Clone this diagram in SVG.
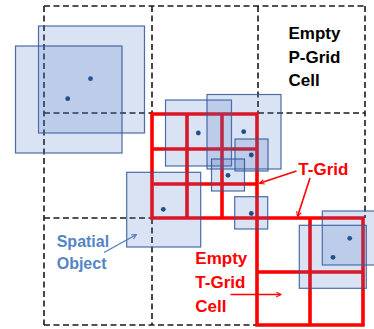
<svg xmlns="http://www.w3.org/2000/svg" width="374" height="329" viewBox="0 0 374 329">
<style>
.pgrid{fill:none;stroke:#1a1a1a;stroke-width:1.6;stroke-dasharray:6 3.5}
.tgrid{fill:none;stroke:#ff0000;stroke-width:3.6;stroke-linecap:square}
.obj{fill:#4472c4;fill-opacity:0.2;stroke:#2f5597;stroke-opacity:0.85;stroke-width:1.2}
.dot{fill:#1f4e8c}
.lbl{font-family:"Liberation Sans",Arial,sans-serif;font-weight:bold}
.blk{fill:#000;font-size:17px}
.red{fill:#ff0000;font-size:17px}
.blu{fill:#5585c5;font-size:16px}
.ra{fill:none;stroke:#ff0000;stroke-width:1.6}
.ba{fill:none;stroke:#4f7fc0;stroke-width:1.4}
</style>
<defs>
<marker id="mr" viewBox="0 0 10 10" refX="9" refY="5" markerWidth="6" markerHeight="6" orient="auto" markerUnits="userSpaceOnUse">
<path d="M1 1 L9 5 L1 9" fill="none" stroke="#ff0000" stroke-width="1.8"/>
</marker>
<marker id="mb" viewBox="0 0 10 10" refX="9" refY="5" markerWidth="6" markerHeight="6" orient="auto" markerUnits="userSpaceOnUse">
<path d="M1 1 L9 5 L1 9" fill="none" stroke="#4f7fc0" stroke-width="1.8"/>
</marker>
</defs>
<g id="p-grid">
<path class="pgrid" d="M44 6 H365 M44 6 V325 M44 325 H257 M152 6 V113 M152 218 V325 M258 6 V113 M44 113 H152 M258 113 H365 M44 218 H152 M365 6 V218"/>
</g>
<g id="t-grid">
<path class="tgrid" d="M152 114 H257 M152 149 H257 M152 184 H257 M152 218 H363 M152 114 V218 M187 114 V218 M222 114 V218 M257 114 V325 M257 272 H363 M257 325 H363 M310 218 V325 M363 218 V325"/>
</g>
<g id="objects">
<g id="obj1"><rect class="obj" x="38.5" y="26" width="106" height="107"/><circle class="dot" cx="90.5" cy="78.7" r="2.4"/></g>
<g id="obj2"><rect class="obj" x="15.5" y="46" width="106.5" height="107"/><circle class="dot" cx="67.7" cy="98.7" r="2.4"/></g>
<g id="obj3"><rect class="obj" x="165.5" y="100" width="66" height="66"/><circle class="dot" cx="198.3" cy="133" r="2.4"/></g>
<g id="obj4"><rect class="obj" x="207" y="94.5" width="74" height="74.5"/><circle class="dot" cx="243.7" cy="131.7" r="2.4"/></g>
<g id="obj5"><rect class="obj" x="235" y="139" width="33" height="32"/><circle class="dot" cx="251.3" cy="155" r="2.4"/></g>
<g id="obj6"><rect class="obj" x="211.5" y="159" width="33" height="32"/><circle class="dot" cx="228" cy="175.3" r="2.4"/></g>
<g id="obj7"><rect class="obj" x="234.7" y="196.7" width="33" height="32.3"/><circle class="dot" cx="251.3" cy="213.5" r="2.4"/></g>
<g id="obj8"><rect class="obj" x="126.7" y="172.3" width="74" height="74.7"/><circle class="dot" cx="163.3" cy="209.3" r="2.4"/></g>
<g id="obj9"><rect class="obj" x="322.3" y="211" width="54" height="54"/><circle class="dot" cx="349.7" cy="238.3" r="2.4"/></g>
<g id="obj10"><rect class="obj" x="299.3" y="225.3" width="67" height="63"/><circle class="dot" cx="333" cy="257.3" r="2.4"/></g>
</g>
<g id="connectors">
<line class="ra" x1="296.5" y1="171" x2="259.5" y2="183.3" marker-end="url(#mr)"/>
<line class="ra" x1="310" y1="178" x2="297.5" y2="216.5" marker-end="url(#mr)"/>
<line class="ra" x1="230.5" y1="294.5" x2="281" y2="294.5" marker-end="url(#mr)"/>
<line class="ba" x1="104" y1="252.5" x2="136.5" y2="234.5" marker-end="url(#mb)"/>
</g>
<g id="label-empty-pgrid">
<text class="lbl blk" x="288.5" y="39">Empty</text>
<text class="lbl blk" x="288.5" y="62.5">P-Grid</text>
<text class="lbl blk" x="288.5" y="85.5">Cell</text>
</g>
<g id="label-tgrid">
<text class="lbl red" x="298.3" y="175">T-Grid</text>
</g>
<g id="label-empty-tgrid">
<text class="lbl red" x="195.3" y="264.3">Empty</text>
<text class="lbl red" x="195.3" y="288.3">T-Grid</text>
<text class="lbl red" x="195.3" y="311.7">Cell</text>
</g>
<g id="label-spatial">
<text class="lbl blu" x="56.7" y="247">Spatial</text>
<text class="lbl blu" x="56.7" y="269">Object</text>
</g>
</svg>
